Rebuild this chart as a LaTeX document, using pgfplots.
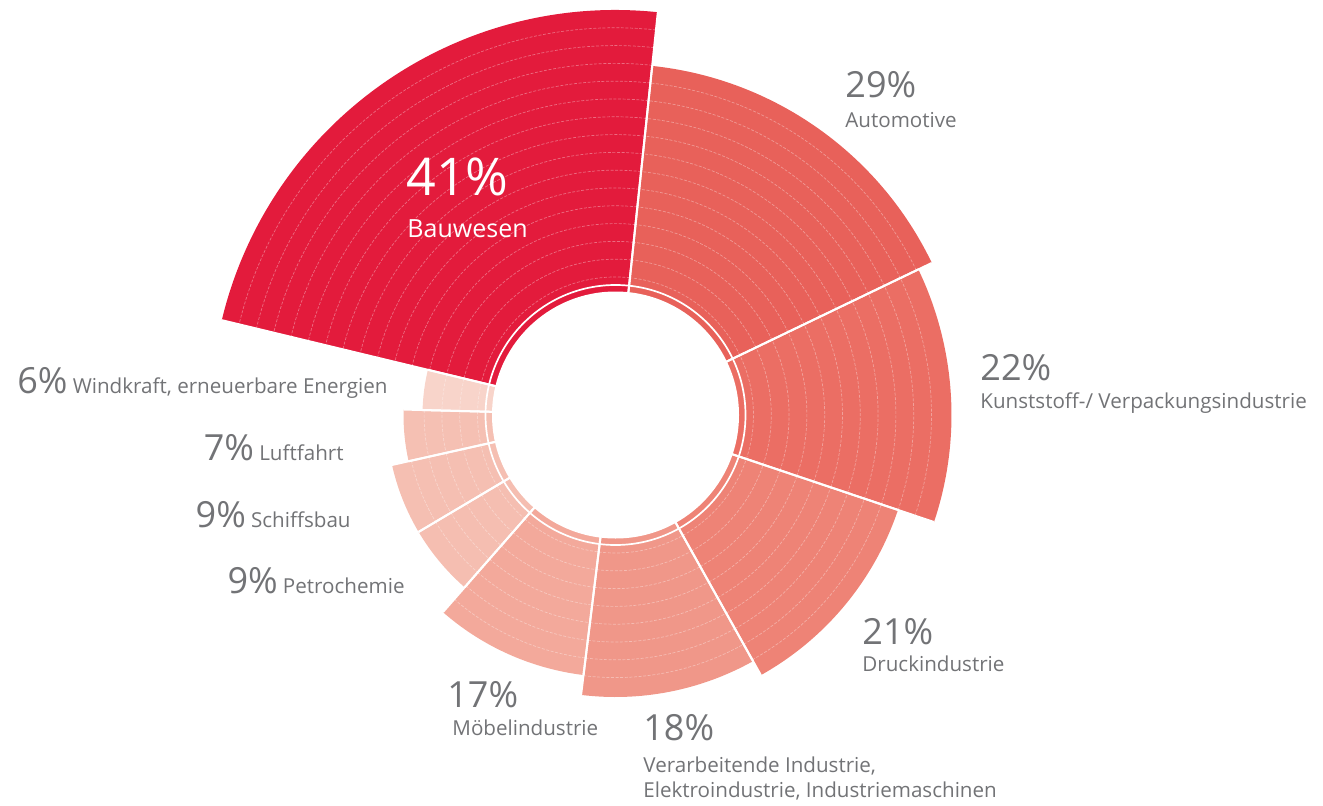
\documentclass[border=0pt]{standalone}
\usepackage{pgfplots}
\pgfplotsset{compat=1.18}
\usepackage{pgfplotstable}
\usepackage{fontspec}
\setmainfont{Open Sans}

\definecolor{cBau}{HTML}{E31B3C}
\definecolor{cAuto}{HTML}{E8615A}
\definecolor{cKunst}{HTML}{EB6E64}
\definecolor{cDruck}{HTML}{EE8376}
\definecolor{cVer}{HTML}{F09789}
\definecolor{cMoeb}{HTML}{F3A99B}
\definecolor{cPetro}{HTML}{F5BEB1}
\definecolor{cSchiff}{HTML}{F5BFB2}
\definecolor{cLuft}{HTML}{F5C0B3}
\definecolor{cWind}{HTML}{F8D4CA}
\definecolor{txt}{HTML}{727376}

% share (%), outer radius (px), colour -- counter-clockwise, starting at 84 deg
\pgfplotstableread{
pct R col
41 405 cBau
6 193 cWind
7 212 cLuft
9 229 cSchiff
9 229 cPetro
17 262 cMoeb
18 282 cVer
21 298 cDruck
22 336 cKunst
29 351 cAuto
}\sectors

\newcommand\bigf{\fontsize{18}{20}\selectfont}
\newcommand\smf{\fontsize{10.3}{13}\selectfont}

\tikzset{
  sep/.style={white, line width=1pt},
  ring/.style={white, opacity=0.35, line width=0.35pt, dash pattern=on 1.5pt off 0.8pt},
}

\begin{document}
\begin{tikzpicture}
\def\cx{615.5}\def\cy{390}
\gdef\secs{}\gdef\seps{}\gdef\rings{}\gdef\cum{0}
\pgfplotstablegetrowsof{\sectors}
\pgfmathtruncatemacro\nlast{\pgfplotsretval-1}
\foreach \i in {0,...,\nlast}{
  \pgfplotstablegetelem{\i}{pct}\of\sectors \let\spct\pgfplotsretval
  \pgfplotstablegetelem{\i}{R}\of\sectors \let\sR\pgfplotsretval
  \pgfplotstablegetelem{\i}{col}\of\sectors \let\scol\pgfplotsretval
  \pgfmathsetmacro\aA{84+\cum/179*360}
  \pgfmathsetmacro\aB{84+(\cum+\spct)/179*360}
  \pgfmathsetmacro\Rpt{\sR/2}
  \xdef\secs{\unexpanded\expandafter{\secs}%
    \noexpand\fill[\scol] (axis cs:\cx,\cy) -- ++(\aA:\Rpt pt)
      arc[start angle=\aA, end angle=\aB, radius=\Rpt pt] -- cycle;}
  \xdef\seps{\unexpanded\expandafter{\seps}%
    \noexpand\draw[sep] (axis cs:\cx,\cy) -- ++(\aA:\Rpt pt);
    \noexpand\draw[sep] (axis cs:\cx,\cy) -- ++(\aB:\Rpt pt);}
  \foreach \k in {0,...,15}{
    \pgfmathsetmacro\rr{(138+17.8*\k)/2}
    \pgfmathtruncatemacro\ok{\rr<\Rpt-2.5}
    \ifnum\ok=1
      \xdef\rings{\unexpanded\expandafter{\rings}%
        \noexpand\draw[ring] (axis cs:\cx,\cy) ++(\aA:\rr pt)
          arc[start angle=\aA, end angle=\aB, radius=\rr pt];}
    \fi
  }
  \pgfmathsetmacro\nc{\cum+\spct}
  \xdef\cum{\nc}
}

\begin{axis}[
    hide axis, scale only axis,
    x=0.5pt, y=0.5pt,
    xmin=0, xmax=1323, ymin=0, ymax=805,
    clip=false,
]
\secs
\rings
\seps
\draw[white, line width=0.85pt] (axis cs:\cx,\cy) circle[radius=65pt];
\fill[white] (axis cs:\cx,\cy) circle[radius=61.75pt];

%% labels
\node[anchor=base west, text=white, inner sep=0pt, font=\fontsize{26}{28}\selectfont] at (axis cs:406,610) {41\%};
\node[anchor=base west, text=white, inner sep=0pt, font=\fontsize{12.5}{15}\selectfont] at (axis cs:407,568) {Bauwesen};

\node[anchor=base west, text=txt, inner sep=0pt, font=\bigf] at (axis cs:845,707) {29\%};
\node[anchor=base west, text=txt, inner sep=0pt, font=\smf] at (axis cs:845,677.5) {Automotive};
\node[anchor=base west, text=txt, inner sep=0pt, font=\bigf] at (axis cs:980,425) {22\%};
\node[anchor=base west, text=txt, inner sep=0pt, font=\smf] at (axis cs:980,397) {Kunststoff-/ Verpackungsindustrie};
\node[anchor=base west, text=txt, inner sep=0pt, font=\bigf] at (axis cs:862,161) {21\%};
\node[anchor=base west, text=txt, inner sep=0pt, font=\smf] at (axis cs:862,134) {Druckindustrie};
\node[anchor=base west, text=txt, inner sep=0pt, font=\bigf] at (axis cs:643,65) {18\%};
\node[anchor=base west, text=txt, inner sep=0pt, font=\smf] at (axis cs:643,33) {Verarbeitende Industrie,};
\node[anchor=base west, text=txt, inner sep=0pt, font=\smf] at (axis cs:643,8) {Elektroindustrie, Industriemaschinen};
\node[anchor=base west, text=txt, inner sep=0pt, font=\bigf] at (axis cs:447,98) {17\%};
\node[anchor=base west, text=txt, inner sep=0pt, font=\smf] at (axis cs:452,70) {Möbelindustrie};

\node[anchor=base east, text=txt, inner sep=0pt] at (axis cs:388,412) {{\bigf 6\%} {\smf Windkraft, erneuerbare Energien}};
\node[anchor=base east, text=txt, inner sep=0pt] at (axis cs:344,345) {{\bigf 7\%} {\smf Luftfahrt}};
\node[anchor=base east, text=txt, inner sep=0pt] at (axis cs:351,278) {{\bigf 9\%} {\smf Schiffsbau}};
\node[anchor=base east, text=txt, inner sep=0pt] at (axis cs:405,212) {{\bigf 9\%} {\smf Petrochemie}};
\end{axis}
\pgfresetboundingbox
\path (current axis.south west) rectangle (current axis.north east);
\end{tikzpicture}
\end{document}
